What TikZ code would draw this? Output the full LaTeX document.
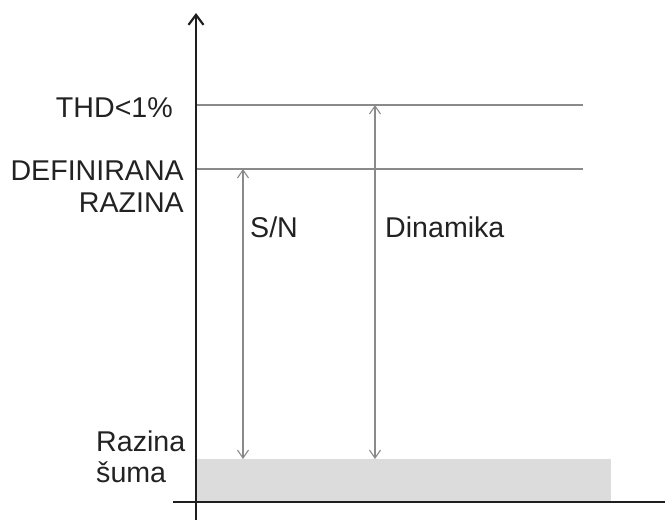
\documentclass[tikz,border=0pt]{standalone}
\usepackage{fontspec}
\setmainfont{Liberation Sans}
\usetikzlibrary{arrows.meta}
\definecolor{axiscol}{HTML}{1E1E1E}
\definecolor{levelcol}{HTML}{8A8A8A}
\definecolor{noisecol}{HTML}{DCDCDC}
\definecolor{textcol}{HTML}{222222}
\begin{document}
\begin{tikzpicture}[x=1pt,y=-1pt,
  axis/.style={draw=axiscol, line width=1.8pt},
  level/.style={draw=levelcol, line width=1.1pt},
  span/.style={draw=levelcol, line width=1.1pt,
    {Straight Barb[length=8pt,width=11pt]}-{Straight Barb[length=8pt,width=11pt]}},
  lbl/.style={font=\fontsize{28.6}{32}\selectfont, text=textcol, inner sep=0pt}]
\useasboundingbox (0,0) rectangle (665,520);

% noise floor band
\fill[noisecol] (197,459) rectangle (611,501);

% reference points
\coordinate (ybot) at (196,520);
\coordinate (ytop) at (196,13);
\coordinate (xleft) at (173,502);
\coordinate (xright) at (665,502);
\coordinate (thdL) at (196,105);
\coordinate (thdR) at (583,105);
\coordinate (defL) at (196,169);
\coordinate (defR) at (583,169);
\coordinate (snTop) at (243,169);
\coordinate (snBot) at (243,459);
\coordinate (dynTop) at (375,105);
\coordinate (dynBot) at (375,459);

% level lines
\draw[level] (thdL) -- (thdR);
\draw[level] (defL) -- (defR);

% axes
\draw[axis, -{Straight Barb[length=10pt,width=15pt,line width=2.2pt]}] (ybot) -- (ytop);
\draw[axis] (xleft) -- (xright);

% ranges
\draw[span] (snTop) -- (snBot);
\draw[span] (dynTop) -- (dynBot);

% labels
\node[lbl, anchor=base east] (thd) at (173,117) {THD<1\%};
\node[lbl, anchor=base east] (def1) at (184,180) {DEFINIRANA};
\node[lbl, anchor=base east] (def2) at (184,212) {RAZINA};
\node[lbl, anchor=base west] (noise1) at (96,451) {Razina};
\node[lbl, anchor=base west] (noise2) at (96,482) {šuma};
\node[lbl, anchor=base west] (sn) at (250,237) {S/N};
\node[lbl, anchor=base west] (dyn) at (385,237) {Dinamika};
\end{tikzpicture}
\end{document}
